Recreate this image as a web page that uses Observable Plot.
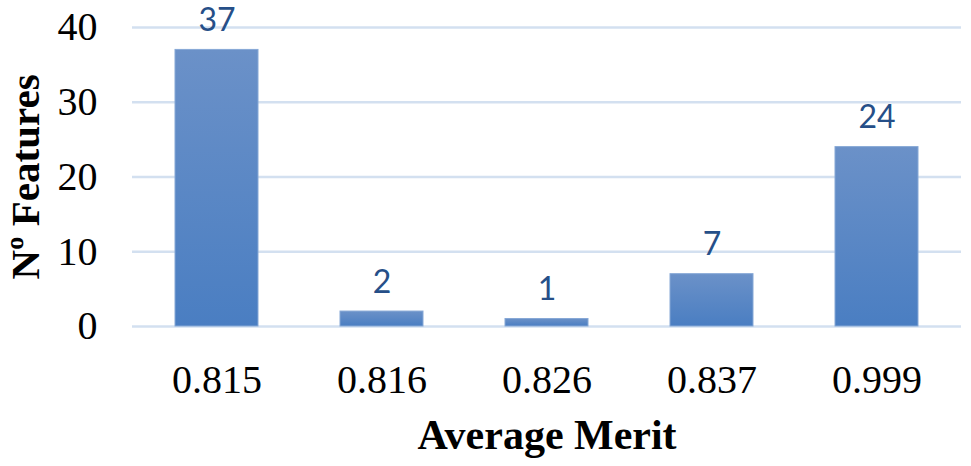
<!DOCTYPE html>
<html>
<head>
<meta charset="utf-8">
<script src="https://cdn.jsdelivr.net/npm/d3@7"></script>
<script src="https://cdn.jsdelivr.net/npm/@observablehq/plot@0.6"></script>
<style>
  html, body { margin: 0; padding: 0; background: #fff; }
</style>
</head>
<body>
<div id="chart"></div>
<script>
const categories = ["0.815", "0.816", "0.826", "0.837", "0.999"];
const counts = [37, 2, 1, 7, 24];
const yTicks = [0, 10, 20, 30, 40];
const xTitle = "Average Merit";
const yTitle = "Nº Features";

const data = categories.map((c, i) => ({ cat: c, n: counts[i] }));

const gradientDefs = () => {
  const defs = d3.create("svg:defs");
  const g = defs.append("linearGradient")
    .attr("id", "barGrad")
    .attr("x1", 0).attr("y1", 0).attr("x2", 0).attr("y2", 1);
  g.append("stop").attr("offset", "0%").attr("stop-color", "#6b91c8");
  g.append("stop").attr("offset", "100%").attr("stop-color", "#4a7ec2");
  return defs.node();
};

const serif = "'Liberation Serif', 'Times New Roman', serif";

const chart = Plot.plot({
  width: 971,
  height: 466,
  marginLeft: 132,
  marginRight: 10,
  marginTop: 27,
  marginBottom: 140,
  style: { background: "#fff" },
  x: { domain: categories, paddingInner: 0.5, paddingOuter: 0.25 },
  y: { domain: [0, 40] },
  marks: [
    gradientDefs,
    Plot.gridY(yTicks, { stroke: "#d3e0f0", strokeWidth: 2.5, strokeOpacity: 1 }),
    Plot.barY(data, { x: "cat", y: "n", fill: "url(#barGrad)", stroke: "#86a8d6", strokeWidth: 1 }),
    Plot.text(data, {
      x: "cat", y: "n", text: d => String(d.n),
      lineAnchor: "bottom", dy: -19,
      fontSize: 32, fontFamily: "Lato, 'Open Sans', sans-serif", fill: "#264f88"
    }),
    Plot.axisX({
      tickSize: 0, tickPadding: 38, label: null,
      fontSize: 40, fontFamily: serif, color: "#000"
    }),
    Plot.axisY(yTicks, {
      tickSize: 0, tickPadding: 35, label: null,
      fontSize: 40, fontFamily: serif, color: "#000"
    }),
    Plot.text([xTitle], {
      frameAnchor: "bottom", dy: 122, text: d => d,
      fontSize: 42, fontWeight: "bold", fontFamily: serif, fill: "#000"
    }),
    Plot.text([yTitle], {
      frameAnchor: "left", textAnchor: "middle", dx: -107, rotate: -90, text: d => d,
      fontSize: 41, fontWeight: "bold", fontFamily: serif, fill: "#000"
    })
  ]
});

document.getElementById("chart").append(chart);
</script>
</body>
</html>
